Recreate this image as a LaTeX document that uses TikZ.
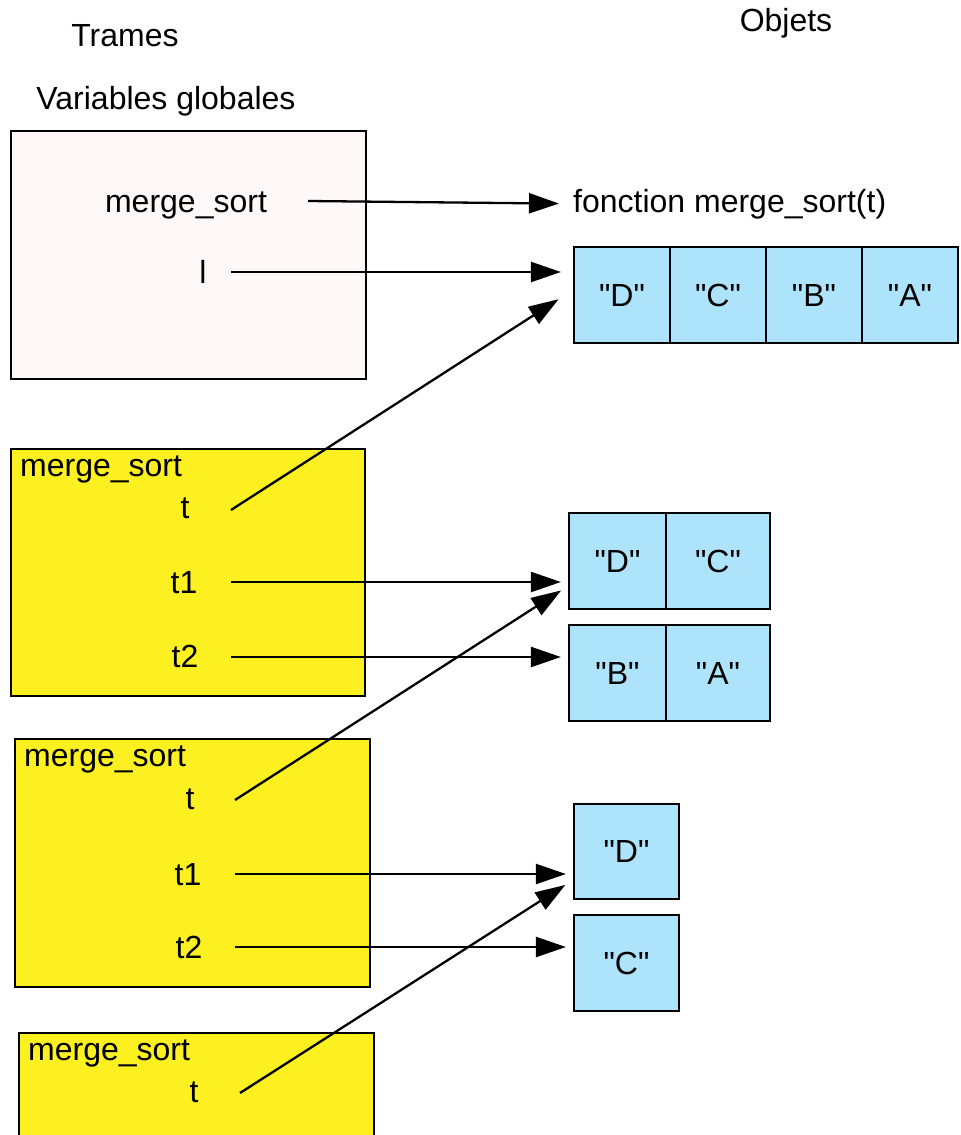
\documentclass[tikz,border=0pt]{standalone}
\usepackage{fontspec}
\setmainfont{Liberation Sans}[Ligatures=TeXOff]
\usetikzlibrary{arrows.meta}
\definecolor{pinkbg}{RGB}{255,248,248}
\definecolor{yel}{RGB}{252,240,33}
\definecolor{cellblue}{RGB}{173,228,252}
\begin{document}
\begin{tikzpicture}[x=1pt,y=-1pt, font=\fontsize{32}{38}\selectfont,
  lbl/.style={inner sep=0pt, anchor=base},
  lblw/.style={inner sep=0pt, anchor=base west},
  framebox/.style={draw, line width=2.2pt, anchor=north west, inner sep=0pt},
  cell/.style={draw, line width=2.2pt, fill=cellblue, minimum height=96pt, inner sep=0pt},
  ptr/.style={line width=2.3pt, -{Triangle[length=30pt,width=20pt]}}]
\useasboundingbox (0,0) rectangle (961,1135);
\clip (0,0) rectangle (961,1135);

% titles
\node[lbl] (trames) at (125,46) {Trames};
\node[lbl] (objets) at (786,31) {Objets};
\node[lbl] (vg) at (166,109) {Variables globales};

% frames
\node[framebox, fill=pinkbg, minimum width=355pt, minimum height=248pt] (g) at (10,130) {};
\node[framebox, fill=yel, minimum width=354pt, minimum height=247pt] (f1) at (10,448) {};
\node[framebox, fill=yel, minimum width=355pt, minimum height=248pt] (f2) at (14,738) {};
\node[framebox, fill=yel, minimum width=355pt, minimum height=248pt] (f3) at (18,1032) {};

% global variables
\node[lbl] (gms) at (186,212) {merge\_sort};
\node[lbl] (gl) at (203,283) {l};
\coordinate (sgms) at (308,201);
\coordinate (sgl) at (231,272);

% frame 1
\node[lblw] (f1n) at (20,476) {merge\_sort};
\node[lbl] (f1t) at (185,518) {t};
\node[lbl] (f1t1) at (184,593) {t1};
\node[lbl] (f1t2) at (185,667) {t2};
\coordinate (sf1t) at (231,510);
\coordinate (sf1t1) at (231,582);
\coordinate (sf1t2) at (231,657);

% frame 2
\node[lblw] (f2n) at (24,766) {merge\_sort};
\node[lbl] (f2t) at (190,809) {t};
\node[lbl] (f2t1) at (188,885) {t1};
\node[lbl] (f2t2) at (189,958) {t2};
\coordinate (sf2t) at (235,800);
\coordinate (sf2t1) at (235,874);
\coordinate (sf2t2) at (235,947);

% frame 3
\node[lblw] (f3n) at (28,1060) {merge\_sort};
\node[lbl] (f3t) at (194,1102) {t};
\coordinate (sf3t) at (240,1093);

% objects
\node[lblw] (fn) at (573,212) {fonction merge\_sort(t)};

\node[cell, minimum width=96pt] (a1) at (622,295) {"D"};
\node[cell, minimum width=96pt] (a2) at (718,295) {"C"};
\node[cell, minimum width=96pt] (a3) at (814,295) {"B"};
\node[cell, minimum width=96pt] (a4) at (910,295) {"A"};

\node[cell, minimum width=97pt] (b1) at (617.5,561) {"D"};
\node[cell, minimum width=104pt] (b2) at (718,561) {"C"};
\node[cell, minimum width=97pt] (c1) at (617.5,673) {"B"};
\node[cell, minimum width=104pt] (c2) at (718,673) {"A"};

\node[cell, minimum width=105pt, minimum height=95pt] (d1) at (626.5,851.5) {"D"};
\node[cell, minimum width=105pt] (d2) at (626.5,963) {"C"};

% pointers
\draw[ptr, shorten >=14pt] (sgms) -- (fn.west);
\draw[ptr, shorten >=12pt] (sgl) -- (sgl -| a1.west);
\draw[ptr, shorten >=17pt] (sf1t) -- ([yshift=5pt]a1.west);
\draw[ptr, shorten >=7pt] (sf1t1) -- (sf1t1 -| b1.west);
\draw[ptr, shorten >=7pt] (sf1t2) -- (sf1t2 -| c1.west);
\draw[ptr, shorten >=8pt] (sf2t) -- ([yshift=24pt]b1.south west);
\draw[ptr, shorten >=7pt] (sf2t1) -- (sf2t1 -| d1.west);
\draw[ptr, shorten >=7pt] (sf2t2) -- (sf2t2 -| d2.west);
\draw[ptr, shorten >=9pt] (sf3t) -- ([yshift=20pt]d1.south west);
\end{tikzpicture}
\end{document}
